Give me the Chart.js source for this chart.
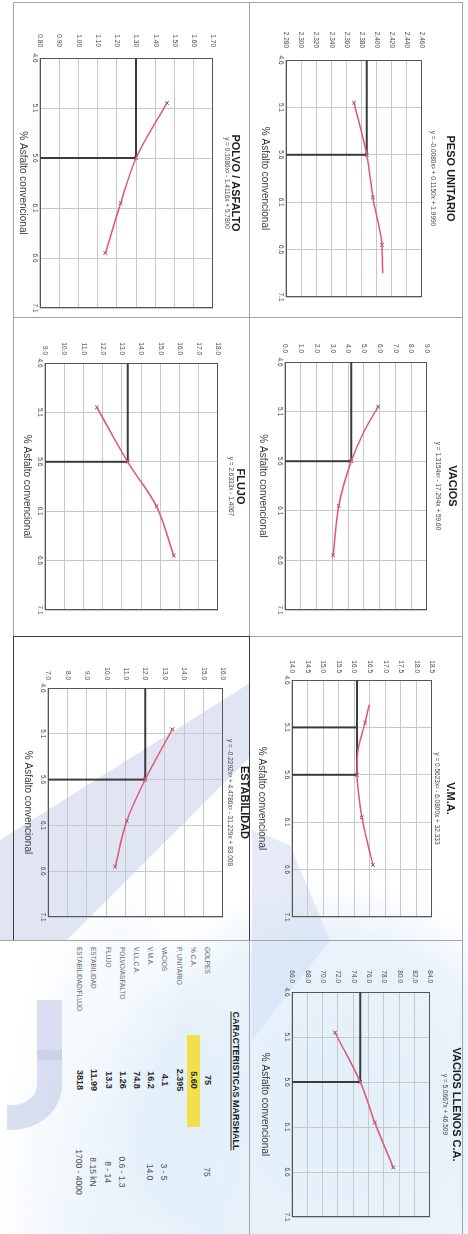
<!DOCTYPE html>
<html lang="es">
<head>
<meta charset="utf-8">
<title>Diseño Marshall</title>
<script src="https://cdn.jsdelivr.net/npm/chart.js@4.4.1/dist/chart.umd.min.js"></script>
<style>
  html, body { margin: 0; padding: 0; background: #fff; }
  body { width: 468px; height: 1234px; position: relative; overflow: hidden; font-family: "Liberation Sans", Arial, sans-serif; }
  .marca { position: absolute; left: 0; top: 0; width: 468px; height: 1234px; }
  #hoja { position: absolute; left: 0; top: 0; width: 1234px; height: 468px; transform-origin: 0 0; transform: translateX(468px) rotate(90deg); }
  .celda { position: absolute; box-sizing: border-box; border: 1px solid #a4a4a4; }
  .celda canvas { position: absolute; left: 0; top: 0; }
  #cajaEstab { border-color: #3c3c3c; }
  .txt { position: absolute; white-space: nowrap; line-height: 1; }
</style>
</head>
<body>
<!-- marca de agua del papel escaneado -->
<div class="marca" style="background:rgba(196,204,232,0.5);clip-path:polygon(250px 683px,250px 757px,67px 940px,0px 940px,0px 840px);"></div>
<div class="marca" style="background:rgba(200,208,236,0.45);clip-path:polygon(252px 830px,290px 845px,330px 940px,252px 1040px);"></div>
<div class="marca" style="background:radial-gradient(circle at 330px 1110px, rgba(206,228,246,0.6) 0px, rgba(206,228,246,0.45) 170px, rgba(206,228,246,0) 230px);"></div>
<div class="marca" style="background:radial-gradient(ellipse at 120px 1300px, rgba(206,228,246,0.55) 0px, rgba(206,228,246,0) 130px);"></div>
<div style="position:absolute;left:37px;top:1000px;width:25px;height:60px;background:rgba(196,202,230,0.6);"></div>
<div style="position:absolute;left:7px;top:1050px;width:55px;height:80px;box-sizing:border-box;border-right:25px solid rgba(196,202,230,0.6);border-bottom:25px solid rgba(196,202,230,0.6);border-bottom-right-radius:50px 45px;"></div>

<div id="hoja"></div>

<script>
// eje X comun: % de asfalto
const ticksAsfalto = [4.6, 5.1, 5.6, 6.1, 6.6, 7.1];
const pctAsfalto = [5.05, 5.6, 6.05, 6.55];
const optimo = 5.6;

// peso unitario
const ticksPeso = [2.28, 2.30, 2.32, 2.34, 2.36, 2.38, 2.40, 2.42, 2.44, 2.46];
const pesoUnitario = [2.370, 2.387, 2.395, 2.407];
const pesoCurvaX = [5.05, 5.6, 6.05, 6.55, 6.85];
const pesoCurvaY = [2.370, 2.387, 2.395, 2.407, 2.408];

// vacios
const ticksVacios = [0, 1, 2, 3, 4, 5, 6, 7, 8, 9];
const vacios = [5.9, 4.2, 3.4, 3.05];
const vaciosCurvaX = [5.05, 5.32, 5.6, 6.05, 6.55];
const vaciosCurvaY = [5.9, 4.95, 4.2, 3.4, 3.05];

// V.M.A.
const ticksVma = [14.0, 14.5, 15.0, 15.5, 16.0, 16.5, 17.0, 17.5, 18.0, 18.5];
const vma = [16.35, 16.09, 16.24, 16.6];
const vmaCurvaX = [4.86, 5.05, 5.34, 5.6, 5.94, 6.21, 6.55];
const vmaCurvaY = [16.48, 16.35, 16.12, 16.09, 16.19, 16.35, 16.6];

// vacios llenos de C.A.
const ticksVllca = [66, 68, 70, 72, 74, 76, 78, 80, 82, 84];
const vllca = [71.6, 74.9, 76.8, 79.2];

// polvo / asfalto
const ticksPolvo = [0.8, 0.9, 1.0, 1.1, 1.2, 1.3, 1.4, 1.5, 1.6, 1.7];
const polvoAsfalto = [1.46, 1.30, 1.22, 1.14];

// flujo
const ticksFlujo = [9, 10, 11, 12, 13, 14, 15, 16, 17, 18];
const flujo = [11.7, 13.3, 14.8, 15.7];

// estabilidad
const ticksEstab = [7, 8, 9, 10, 11, 12, 13, 14, 15, 16];
const estabilidad = [13.4, 12.0, 11.05, 10.45];

// tabla de caracteristicas
const filasMarshall = ['GOLPES', '% C.A.', 'P. UNITARIO', 'VACIOS', 'V.M.A.', 'V.LL.C.A.', 'POLVO/ASFALTO', 'FLUJO', 'ESTABILIDAD', 'ESTABILIDAD/FLUJO'];
const valoresMarshall = ['75', '5.60', '2.395', '4.1', '16.2', '74.8', '1.26', '13.3', '11.99', '3818'];
const especMarshall = ['75', '', '', '3 - 5', '14.0', '', '0.6 - 1.3', '8 - 14', '8.15 kN', '1700 - 4000'];

Chart.defaults.font.family = '"Liberation Sans", Arial, sans-serif';

const hoja = document.getElementById('hoja');

const rotulos = {
  id: 'rotulos',
  beforeDatasetsDraw(chart) {
    const { ctx, chartArea: a } = chart;
    ctx.save();
    ctx.strokeStyle = '#555';
    ctx.lineWidth = 1;
    ctx.strokeRect(Math.round(a.left) + 0.5, Math.round(a.top) + 0.5, Math.round(a.width) - 1, Math.round(a.height) - 1);
    ctx.restore();
  },
  afterDraw(chart, args, o) {
    const { ctx, chartArea: a } = chart;
    const cx = (a.left + a.right) / 2;
    ctx.save();
    ctx.textAlign = 'center';
    ctx.textBaseline = 'middle';
    ctx.fillStyle = '#1e1e1e';
    ctx.font = 'bold 11px "Liberation Sans", Arial, sans-serif';
    ctx.fillText(o.titulo, cx, o.yTitulo);
    ctx.fillStyle = '#474747';
    ctx.font = '6.5px "Liberation Sans", Arial, sans-serif';
    ctx.fillText(o.ecuacion, cx, o.yEcuacion);
    ctx.fillStyle = '#3a3a3a';
    ctx.font = '10px "Liberation Sans", Arial, sans-serif';
    ctx.fillText('% Asfalto convencional', cx, o.yEje);
    ctx.restore();
  }
};

function panel(p) {
  const [cl, ct, cw, ch] = p.celda;
  const [al, at, ar, ab] = p.area;
  const ox = cl + 1, oy = ct + 1;
  const w = cw - 2, h = ch - 2;

  const div = document.createElement('div');
  div.className = 'celda';
  if (p.caja) div.id = p.caja;
  div.style.left = cl + 'px';
  div.style.top = ct + 'px';
  div.style.width = cw + 'px';
  div.style.height = ch + 'px';
  if (p.sinDerecha) div.style.borderRight = 'none';
  const cv = document.createElement('canvas');
  cv.width = w; cv.height = h;
  cv.style.width = w + 'px'; cv.style.height = h + 'px';
  div.appendChild(cv);
  hoja.appendChild(div);

  const yMin = p.ticks[0];
  const yMax = p.ticks[p.ticks.length - 1];
  const opt = p.y[1];
  const linea = { borderColor: '#3b3b3b', borderWidth: 2, pointRadius: 0 };

  const ds = [
    { data: p.cx.map((x, i) => ({ x, y: p.cy[i] })), borderColor: '#e0567c', borderWidth: 1.5,
      pointRadius: 0, cubicInterpolationMode: 'monotone' },
    { data: pctAsfalto.map((x, i) => ({ x, y: p.y[i] })), showLine: false, pointStyle: 'crossRot',
      pointRadius: 2.5, borderColor: '#7d2a44', borderWidth: 1 },
    { data: [{ x: optimo, y: yMin }, { x: optimo, y: opt }], ...linea },
    { data: [{ x: ticksAsfalto[0], y: opt }, { x: optimo, y: opt }], ...linea }
  ];
  (p.extra || []).forEach(xv => ds.push({ data: [{ x: xv, y: yMin }, { x: xv, y: opt }], ...linea }));

  const ejeTicks = { color: '#4a4a4a', font: { size: 6.5 }, autoSkip: false, maxRotation: 0 };
  const rejilla = { color: '#c8c8c8', drawTicks: false };

  new Chart(cv, {
    type: 'line',
    data: { datasets: ds },
    options: {
      responsive: false,
      animation: false,
      devicePixelRatio: 1,
      layout: { padding: { left: 0, top: at - oy, right: ox + w - ar, bottom: 0 } },
      plugins: {
        legend: { display: false },
        tooltip: { enabled: false },
        rotulos: { titulo: p.titulo, ecuacion: p.ec, yTitulo: p.t[0] - oy, yEcuacion: p.t[1] - oy, yEje: p.xt - oy }
      },
      scales: {
        x: {
          type: 'linear', min: ticksAsfalto[0], max: ticksAsfalto[ticksAsfalto.length - 1],
          afterBuildTicks: s => { s.ticks = ticksAsfalto.map(v => ({ value: v })); },
          afterFit: s => { s.height = oy + h - ab; },
          ticks: { ...ejeTicks, padding: 1, callback: v => v.toFixed(1) },
          grid: rejilla, border: { display: false }
        },
        y: {
          type: 'linear', min: yMin, max: yMax,
          afterBuildTicks: s => { s.ticks = p.ticks.map(v => ({ value: v })); },
          afterFit: s => { s.width = al - ox; },
          ticks: { ...ejeTicks, padding: p.pad, callback: v => v.toFixed(p.dec) },
          grid: rejilla, border: { display: false }
        }
      }
    },
    plugins: [rotulos]
  });
}

const paneles = [
  { celda: [2, 5, 316, 214], area: [60, 46, 297, 182], t: [18, 35], xt: 203, pad: 12,
    titulo: 'PESO UNITARIO', ec: 'y = -0.0080x² + 0.1150x + 1.9990',
    ticks: ticksPeso, dec: 3, y: pesoUnitario, cx: pesoCurvaX, cy: pesoCurvaY },
  { celda: [317, 5, 320, 214], area: [362, 41, 610, 183], t: [16, 30], xt: 205, pad: 9,
    titulo: 'VACIOS', ec: 'y = 1.3154x² - 17.294x + 59.60',
    ticks: ticksVacios, dec: 1, y: vacios, cx: vaciosCurvaX, cy: vaciosCurvaY },
  { celda: [636, 5, 305, 214], area: [680, 36, 917, 176], t: [18, 31], xt: 206, pad: 7,
    titulo: 'V.M.A.', ec: 'y = 0.5623x² - 6.0800x + 32.333',
    ticks: ticksVma, dec: 1, y: vma, cx: vmaCurvaX, cy: vmaCurvaY, extra: [5.1] },
  { celda: [940, 5, 294, 214], area: [992, 38, 1217, 176], t: [12, 23], xt: 203, pad: 9, sinDerecha: true,
    titulo: 'VACIOS LLENOS C.A.', ec: 'y = 5.0667x + 46.509',
    ticks: ticksVllca, dec: 1, y: vllca, cx: pctAsfalto, cy: vllca },
  { celda: [2, 218, 316, 237], area: [58, 255, 308, 428], t: [233, 241], xt: 445, pad: 11,
    titulo: 'POLVO / ASFALTO', ec: 'y = 0.1086x² - 1.4116x + 5.7800',
    ticks: ticksPolvo, dec: 2, y: polvoAsfalto, cx: pctAsfalto, cy: polvoAsfalto },
  { celda: [317, 218, 320, 237], area: [363, 250, 610, 423], t: [228, 237], xt: 441, pad: 8,
    titulo: 'FLUJO', ec: 'y = 2.6333x - 1.4067',
    ticks: ticksFlujo, dec: 1, y: flujo, cx: pctAsfalto, cy: flujo },
  { celda: [636, 218, 305, 237], area: [688, 245, 917, 420], t: [224, 238], xt: 440, pad: 8, caja: 'cajaEstab',
    titulo: 'ESTABILIDAD', ec: 'y = -0.2292x³ + 4.4786x² - 31.229x + 83.008',
    ticks: ticksEstab, dec: 1, y: estabilidad, cx: pctAsfalto, cy: estabilidad }
];
paneles.forEach(panel);

// cuadro de caracteristicas Marshall
const tabla = document.createElement('div');
tabla.style.cssText = 'position:absolute;left:940px;top:218px;width:294px;height:250px;border-left:1px solid #a4a4a4;';
hoja.appendChild(tabla);

function texto(str, u, v, css, centrado) {
  const d = document.createElement('div');
  d.className = 'txt';
  d.textContent = str;
  d.style.cssText += css;
  d.style.left = u + 'px';
  d.style.top = v + 'px';
  d.style.transform = centrado ? 'translate(-50%,-50%)' : 'translateY(-50%)';
  hoja.appendChild(d);
}

const resaltado = document.createElement('div');
resaltado.style.cssText = 'position:absolute;left:1035px;top:268px;width:92px;height:13px;background:#efe04c;';
hoja.appendChild(resaltado);

texto('CARACTERISTICAS MARSHALL', 1081, 233, 'font-weight:bold;font-size:9px;text-decoration:underline;color:#222;', true);
filasMarshall.forEach((f, i) => {
  const v = 261 + i * 14.2;
  texto(f, 947, v, 'font-size:6.5px;color:#6a6a6a;', false);
  texto(valoresMarshall[i], 1080, v, 'font-size:9px;font-weight:bold;color:#2a2a2a;', true);
  if (especMarshall[i]) texto(especMarshall[i], 1172, v, 'font-size:8.5px;color:#505050;', true);
});
</script>
</body>
</html>
